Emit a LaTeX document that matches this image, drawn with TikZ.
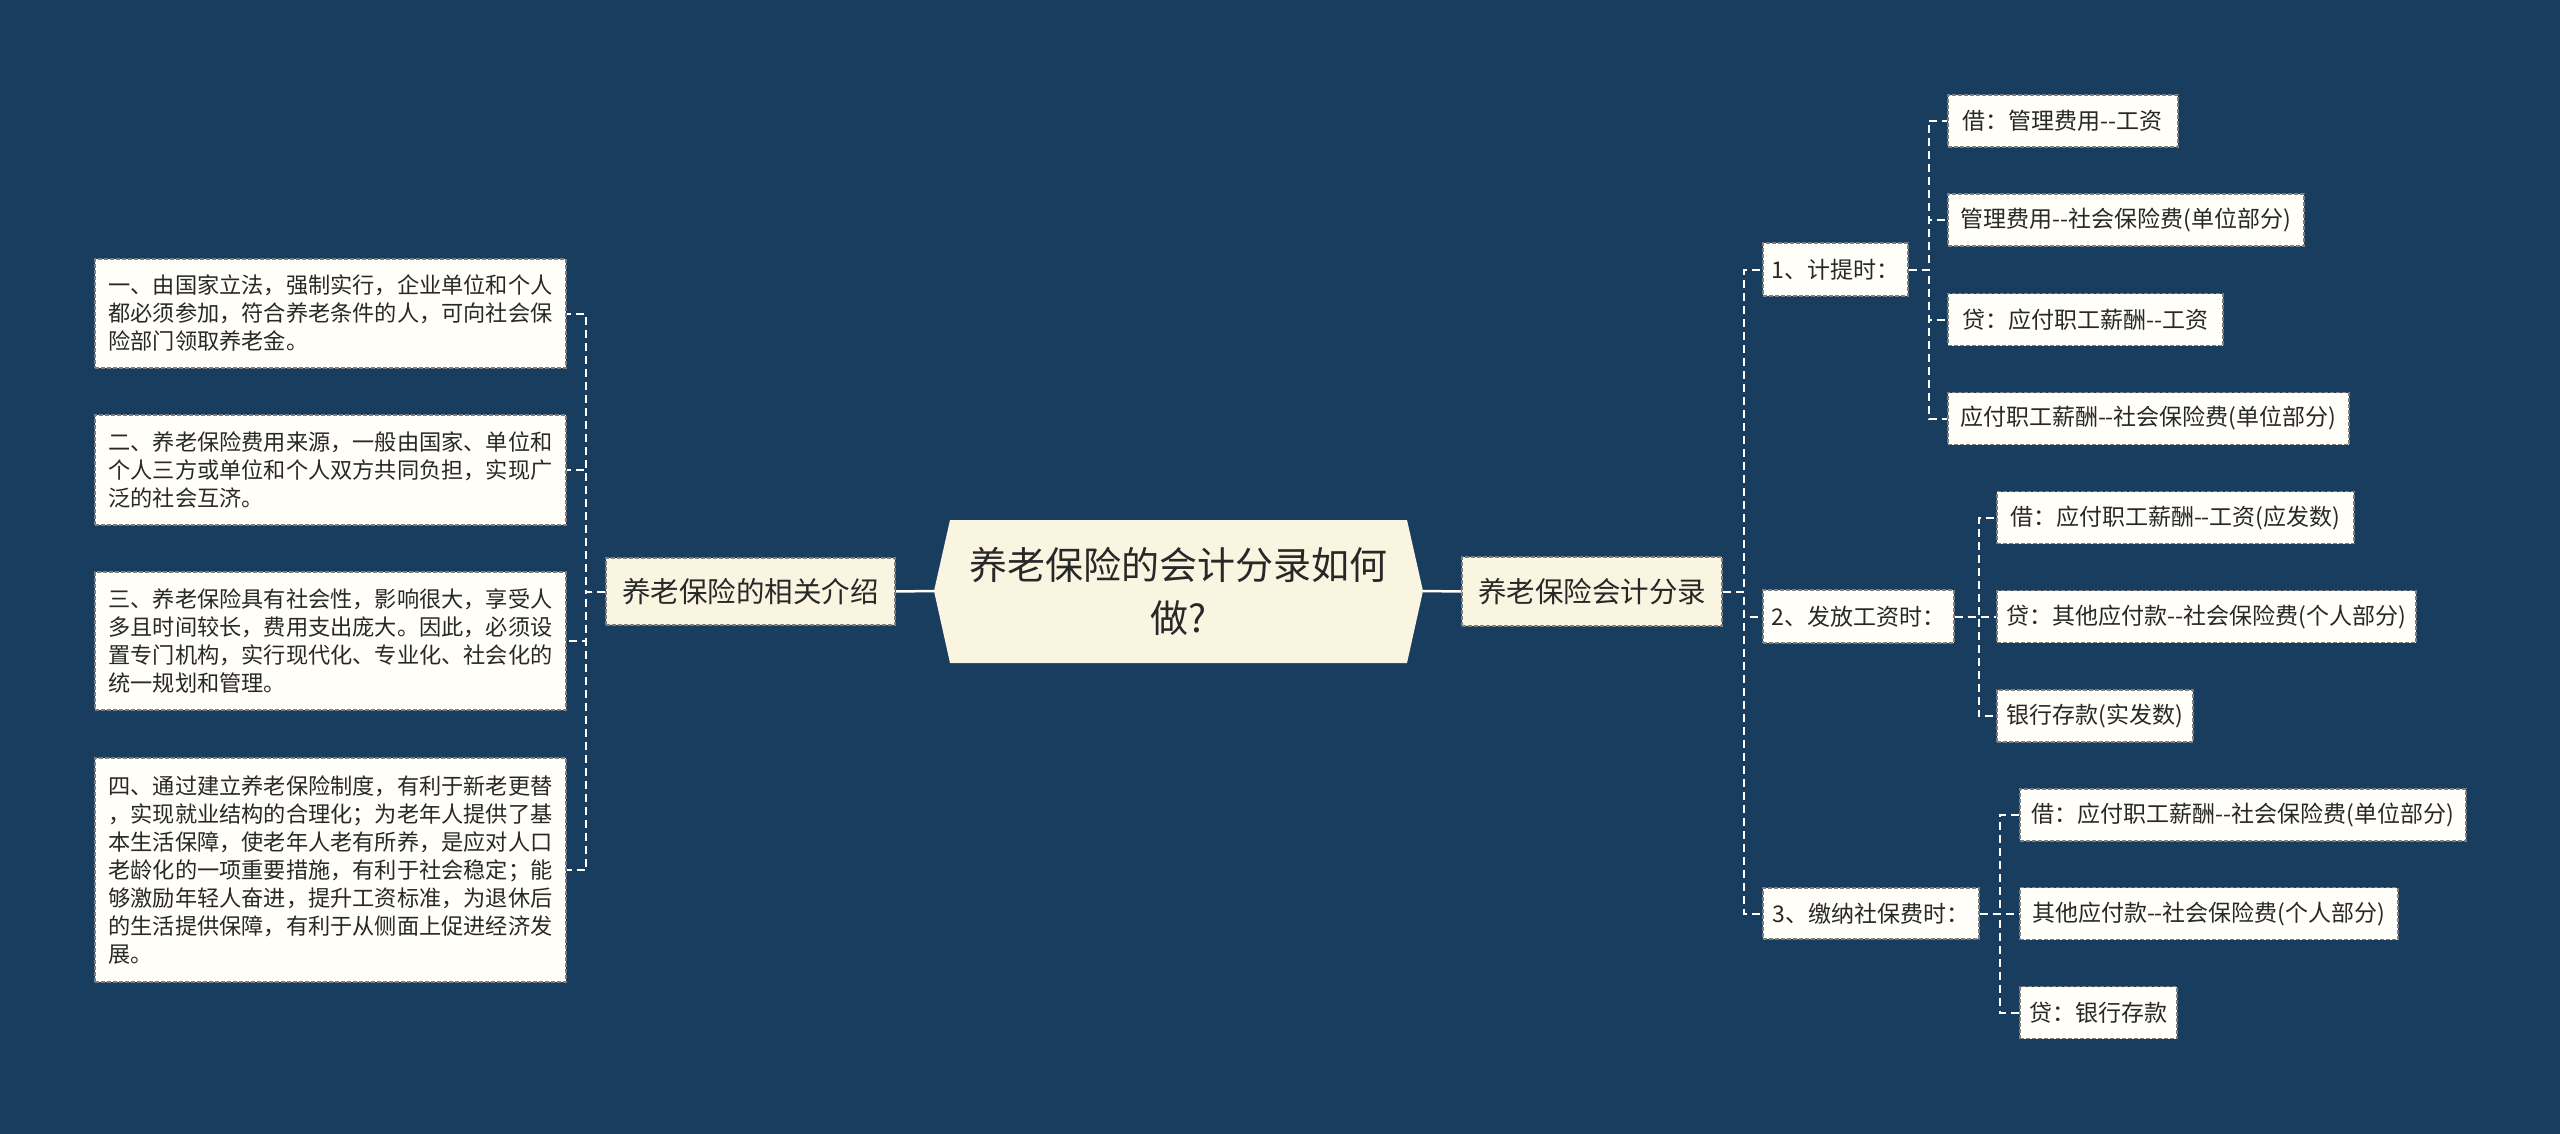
\documentclass[tikz,border=0pt]{standalone}
\usepackage{fontspec}
\newfontfamily\cjk{Noto Sans CJK SC}
\definecolor{bgc}{RGB}{25,61,94}
\definecolor{cream}{RGB}{250,245,225}
\definecolor{leaffill}{RGB}{255,254,248}
\definecolor{boxborder}{RGB}{125,125,125}
\definecolor{txt}{RGB}{40,40,40}
\begin{document}
\begin{tikzpicture}[x=1pt,y=-1pt,
  conn/.style={draw=white, line width=2pt, dash pattern=on 8pt off 5pt},
  solidconn/.style={draw=white, line width=2.5pt},
  box/.style={draw=boxborder, line width=1.5pt, dash pattern=on 4pt off 2pt, inner sep=0pt, text=txt},
  leaf/.style={box, fill=leaffill, anchor=west, minimum height=52pt, font=\cjk\fontsize{23}{28}\selectfont},
  grp/.style={box, fill=leaffill, anchor=west, font=\cjk\fontsize{23}{28}\selectfont},
  intro/.style={box, fill=leaffill, minimum width=471pt, align=left, font=\cjk\fontsize{22.2}{28}\selectfont},
  lvlone/.style={box, fill=cream, font=\cjk\fontsize{28.5}{34}\selectfont}
]
\useasboundingbox (0,0) rectangle (2560,1134);
\fill[bgc] (0,0) rectangle (2560,1134);

% central hexagon
\fill[cream] (934,591) -- (950,520) -- (1407,520) -- (1423,591) -- (1407,663) -- (950,663) -- cycle;
\node[text=txt, align=center, font=\cjk\fontsize{38}{53}\selectfont, minimum width=489pt, minimum height=143pt, inner sep=0pt] (root) at (1178.5,591) {养老保险的会计分录如何\\做?};

% level one
\node[lvlone, minimum width=289pt, minimum height=67pt] (L1) at (750.5,591.5) {养老保险的相关介绍};
\node[lvlone, minimum width=260pt, minimum height=69pt] (R1) at (1592,591.5) {养老保险会计分录};

\draw[solidconn] (root.west) -- (L1.east);
\draw[solidconn] (root.east) -- (R1.west);

% left intro boxes
\node[intro, minimum height=109pt] (b1) at (330.5,313.5) {一、由国家立法，强制实行，企业单位和个人\\都必须参加，符合养老条件的人，可向社会保\\险部门领取养老金。};
\node[intro, minimum height=110pt] (b2) at (330.5,470) {二、养老保险费用来源，一般由国家、单位和\\个人三方或单位和个人双方共同负担，实现广\\泛的社会互济。};
\node[intro, minimum height=138pt] (b3) at (330.5,641) {三、养老保险具有社会性，影响很大，享受人\\多且时间较长，费用支出庞大。因此，必须设\\置专门机构，实行现代化、专业化、社会化的\\统一规划和管理。};
\node[intro, minimum height=224pt] (b4) at (330.5,870) {四、通过建立养老保险制度，有利于新老更替\\，实现就业结构的合理化；为老年人提供了基\\本生活保障，使老年人老有所养，是应对人口\\老龄化的一项重要措施，有利于社会稳定；能\\够激励年轻人奋进，提升工资标准，为退休后\\的生活提供保障，有利于从侧面上促进经济发\\展。};

\foreach \b in {b1,b2,b3,b4}{
  \draw[conn] (L1.west) -- ++(-19,0) |- (\b.east);
}

% right groups
\node[grp, minimum width=145pt, minimum height=53pt] (g1) at (1762,269.5) {1、计提时：};
\node[grp, minimum width=191pt, minimum height=53pt] (g2) at (1762,616.5) {2、发放工资时：};
\node[grp, minimum width=216pt, minimum height=51pt] (g3) at (1762,913.5) {3、缴纳社保费时：};

\foreach \g in {g1,g2,g3}{
  \draw[conn] (R1.east) -- ++(21,0) |- (\g.west);
}

% group 1 leaves
\node[leaf, minimum width=230pt] (a1) at (1947,121) {借：管理费用--工资};
\node[leaf, minimum width=356pt] (a2) at (1947,220) {管理费用--社会保险费(单位部分)};
\node[leaf, minimum width=275pt] (a3) at (1947,319.5) {贷：应付职工薪酬--工资};
\node[leaf, minimum width=401pt] (a4) at (1947,418.5) {应付职工薪酬--社会保险费(单位部分)};
\foreach \a in {a1,a2,a3,a4}{
  \draw[conn] (g1.east) -- ++(20,0) |- (\a.west);
}

% group 2 leaves
\node[leaf, minimum width=357pt] (c1) at (1996,517.5) {借：应付职工薪酬--工资(应发数)};
\node[leaf, minimum width=419pt] (c2) at (1996,616.5) {贷：其他应付款--社会保险费(个人部分)};
\node[leaf, minimum width=196pt] (c3) at (1996,716) {银行存款(实发数)};
\foreach \c in {c1,c2,c3}{
  \draw[conn] (g2.east) -- ++(24,0) |- (\c.west);
}

% group 3 leaves
\node[leaf, minimum width=446pt] (d1) at (2019,815) {借：应付职工薪酬--社会保险费(单位部分)};
\node[leaf, minimum width=378pt] (d2) at (2019,913.5) {其他应付款--社会保险费(个人部分)};
\node[leaf, minimum width=157pt] (d3) at (2019,1012.5) {贷：银行存款};
\foreach \d in {d1,d2,d3}{
  \draw[conn] (g3.east) -- ++(20,0) |- (\d.west);
}
\end{tikzpicture}
\end{document}
